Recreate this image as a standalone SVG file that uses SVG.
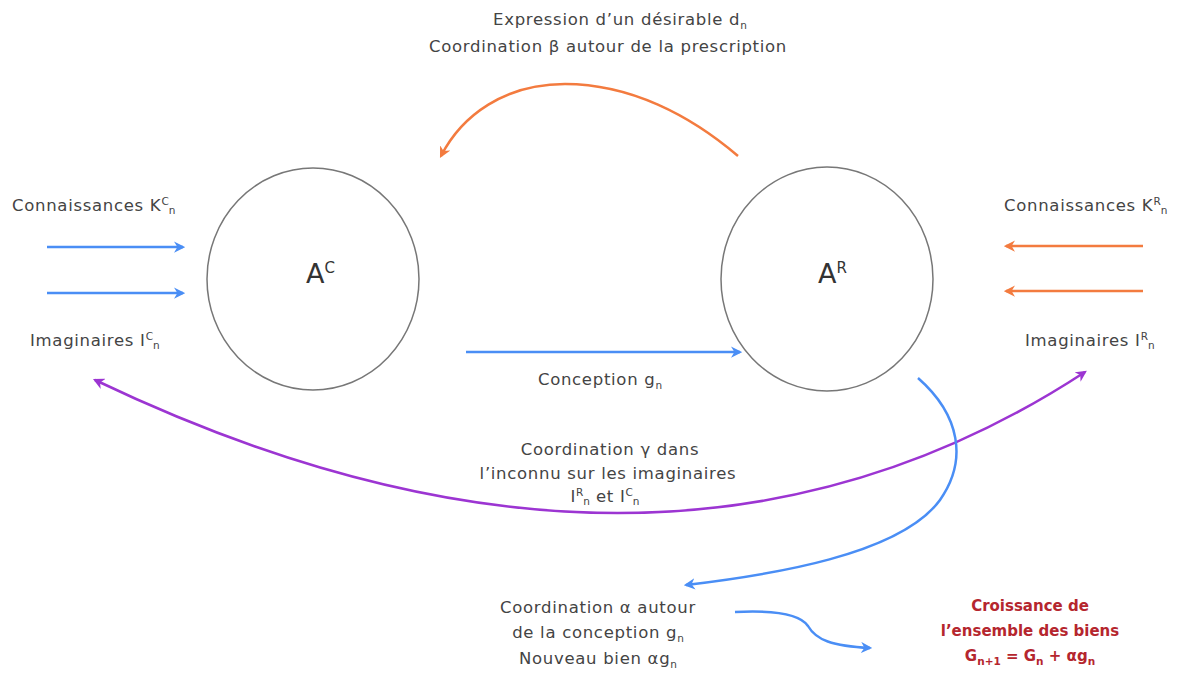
<svg xmlns="http://www.w3.org/2000/svg" width="1189" height="673" viewBox="0 0 1189 673">
<defs>
<style>
.t{font-family:"DejaVu Sans","Liberation Sans",sans-serif;font-size:16.5px;letter-spacing:0.7px;fill:#444;}
.big{font-family:"DejaVu Sans","Liberation Sans",sans-serif;font-size:27px;fill:#333;}
.sup{font-size:15px;}
.red{font-family:"DejaVu Sans","Liberation Sans",sans-serif;font-size:15px;font-weight:bold;fill:#b5262e;}
.s{font-size:10.5px;letter-spacing:0;}
.node{fill:none;stroke:#777;stroke-width:1.5;}
.b{fill:none;stroke:#4a8ef5;stroke-width:2.5;}
.o{fill:none;stroke:#f37b3f;stroke-width:2.5;}
.p{fill:none;stroke:#9c35d2;stroke-width:2.5;}
</style>
<marker id="mb" viewBox="0 0 10 10" refX="8" refY="5" markerWidth="4.5" markerHeight="4.5" orient="auto-start-reverse" markerUnits="strokeWidth"><path d="M0,0 L10,5 L0,10 L3,5 z" fill="#4a8ef5"/></marker>
<marker id="mo" viewBox="0 0 10 10" refX="8" refY="5" markerWidth="4.5" markerHeight="4.5" orient="auto-start-reverse" markerUnits="strokeWidth"><path d="M0,0 L10,5 L0,10 L3,5 z" fill="#f37b3f"/></marker>
<marker id="mp" viewBox="0 0 10 10" refX="8" refY="5" markerWidth="4.5" markerHeight="4.5" orient="auto-start-reverse" markerUnits="strokeWidth"><path d="M0,0 L10,5 L0,10 L3,5 z" fill="#9c35d2"/></marker>
</defs>
<rect width="1189" height="673" fill="#fff"/>

<g id="node-AC">
<ellipse class="node" cx="313" cy="279" rx="106" ry="111"/>
<text class="big" x="306" y="283">A<tspan class="sup" dy="-10">C</tspan></text>
</g>
<g id="node-AR">
<ellipse class="node" cx="827" cy="279" rx="106" ry="112"/>
<text class="big" x="818" y="283">A<tspan class="sup" dy="-10">R</tspan></text>
</g>

<g id="connectors">
<path class="o" d="M738,156 C690,115 630,84 565,84 C505,84 462,115 441,156" marker-end="url(#mo)"/>
<line class="b" x1="47" y1="247" x2="183" y2="247" marker-end="url(#mb)"/>
<line class="b" x1="47" y1="293" x2="183" y2="293" marker-end="url(#mb)"/>
<line class="o" x1="1143" y1="246" x2="1006" y2="246" marker-end="url(#mo)"/>
<line class="o" x1="1143" y1="291" x2="1006" y2="291" marker-end="url(#mo)"/>
<line class="b" x1="466" y1="352" x2="740" y2="352" marker-end="url(#mb)"/>
<path class="p" d="M95,380 Q660,650 1085,372" marker-start="url(#mp)" marker-end="url(#mp)"/>
<path class="b" d="M918,378 C960,415 968,460 940,500 C900,555 770,575 686,585" marker-end="url(#mb)"/>
<path class="b" d="M735,612 C775,610 800,614 808,626 C816,640 832,646 870,648" marker-end="url(#mb)"/>
</g>

<g id="labels">
<text class="t" x="620" y="25" text-anchor="middle">Expression d’un désirable d<tspan class="s" dy="4">n</tspan></text>
<text class="t" x="608" y="52" text-anchor="middle">Coordination β autour de la prescription</text>
<text class="t" x="12" y="211">Connaissances K<tspan class="s" dy="-6">C</tspan><tspan class="s" dy="9">n</tspan></text>
<text class="t" x="30" y="346">Imaginaires I<tspan class="s" dy="-6">C</tspan><tspan class="s" dy="9">n</tspan></text>
<text class="t" x="1004" y="211">Connaissances K<tspan class="s" dy="-6">R</tspan><tspan class="s" dy="9">n</tspan></text>
<text class="t" x="1025" y="346">Imaginaires I<tspan class="s" dy="-6">R</tspan><tspan class="s" dy="9">n</tspan></text>
<text class="t" x="600" y="385" text-anchor="middle">Conception g<tspan class="s" dy="4">n</tspan></text>
<text class="t" x="610" y="455" text-anchor="middle">Coordination γ dans</text>
<text class="t" x="608" y="479" text-anchor="middle">l’inconnu sur les imaginaires</text>
<text class="t" x="605" y="502" text-anchor="middle">I<tspan class="s" dy="-6">R</tspan><tspan class="s" dy="9">n</tspan><tspan dy="-3"> et I</tspan><tspan class="s" dy="-6">C</tspan><tspan class="s" dy="9">n</tspan></text>
<text class="t" x="598" y="613" text-anchor="middle">Coordination α autour</text>
<text class="t" x="598" y="638" text-anchor="middle">de la conception g<tspan class="s" dy="4">n</tspan></text>
<text class="t" x="598" y="664" text-anchor="middle">Nouveau bien αg<tspan class="s" dy="4">n</tspan></text>
<text class="red" x="1030" y="611" text-anchor="middle">Croissance de</text>
<text class="red" x="1030" y="636" text-anchor="middle">l’ensemble des biens</text>
<text class="red" x="1030" y="661" text-anchor="middle">G<tspan class="s" dy="4">n+1</tspan><tspan dy="-4"> = G</tspan><tspan class="s" dy="4">n</tspan><tspan dy="-4"> + αg</tspan><tspan class="s" dy="4">n</tspan></text>
</g>
</svg>
